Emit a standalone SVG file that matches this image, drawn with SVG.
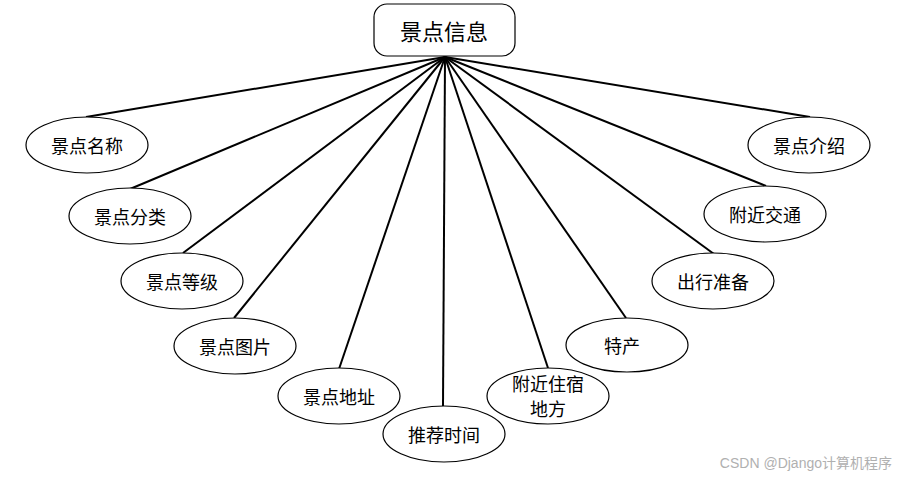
<svg xmlns="http://www.w3.org/2000/svg" width="897" height="477" viewBox="0 0 897 477">
<style>
.e{fill:#fff;stroke:#000;stroke-width:1.2}
.t{font-family:"Noto Sans CJK SC","Liberation Sans",sans-serif;font-size:18px;fill:#000;text-anchor:middle;dominant-baseline:central}
.c line{stroke:#000;stroke-width:2}
</style>
<rect width="897" height="477" fill="#fff"/>
<g class="c" id="connectors">
<line x1="445" y1="57" x2="86" y2="117"/>
<line x1="445" y1="57" x2="130" y2="189"/>
<line x1="445" y1="57" x2="183" y2="253"/>
<line x1="445" y1="57" x2="234" y2="318"/>
<line x1="445" y1="57" x2="339" y2="369"/>
<line x1="445" y1="57" x2="443" y2="406"/>
<line x1="445" y1="57" x2="548" y2="368"/>
<line x1="445" y1="57" x2="626" y2="318"/>
<line x1="445" y1="57" x2="714" y2="254"/>
<line x1="445" y1="57" x2="766" y2="186"/>
<line x1="445" y1="57" x2="810" y2="117"/>
</g>
<g id="root">
<rect x="374" y="4" width="141" height="52" rx="13" class="e"/>
<text x="444" y="30" class="t" style="font-size:22px">景点信息</text>
</g>
<g id="n1"><ellipse cx="87" cy="145" rx="61" ry="28" class="e"/><text x="87" y="145" class="t">景点名称</text></g>
<g id="n2"><ellipse cx="130" cy="216" rx="61" ry="28" class="e"/><text x="130" y="216" class="t">景点分类</text></g>
<g id="n3"><ellipse cx="182" cy="281" rx="61" ry="28" class="e"/><text x="182" y="281" class="t">景点等级</text></g>
<g id="n4"><ellipse cx="235" cy="346" rx="61" ry="28" class="e"/><text x="235" y="346" class="t">景点图片</text></g>
<g id="n5"><ellipse cx="339" cy="396" rx="61" ry="28" class="e"/><text x="339" y="396" class="t">景点地址</text></g>
<g id="n6"><ellipse cx="444" cy="434" rx="61" ry="28" class="e"/><text x="444" y="434" class="t">推荐时间</text></g>
<g id="n7"><ellipse cx="548" cy="396" rx="61" ry="28" class="e"/><text x="548" y="383" class="t">附近住宿</text><text x="548" y="408" class="t">地方</text></g>
<g id="n8"><ellipse cx="627" cy="345" rx="61" ry="27" class="e"/><text x="622" y="345" class="t">特产</text></g>
<g id="n9"><ellipse cx="713" cy="281" rx="61" ry="28" class="e"/><text x="713" y="281" class="t">出行准备</text></g>
<g id="n10"><ellipse cx="765" cy="214" rx="61" ry="28" class="e"/><text x="765" y="214" class="t">附近交通</text></g>
<g id="n11"><ellipse cx="809" cy="145" rx="61" ry="28" class="e"/><text x="809" y="145" class="t">景点介绍</text></g>
<text x="892" y="463" style="font-family:'Liberation Sans','Noto Sans CJK SC',sans-serif;font-size:14px;fill:#b0b0b0;text-anchor:end;dominant-baseline:central">CSDN @Django计算机程序</text>
</svg>
